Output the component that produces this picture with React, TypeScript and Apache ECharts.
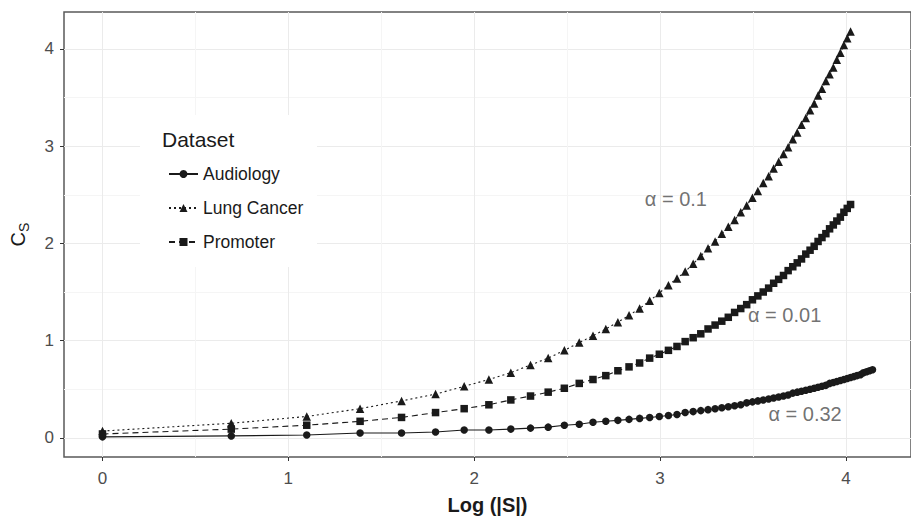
import React, { useEffect, useRef } from "react";
import * as echarts from "echarts";

// Log(|S|) for |S| = 1..63
const logSize = [
  0, 0.693, 1.099, 1.386, 1.609, 1.792, 1.946, 2.079, 2.197, 2.303,
  2.398, 2.485, 2.565, 2.639, 2.708, 2.773, 2.833, 2.89, 2.944, 2.996,
  3.045, 3.091, 3.135, 3.178, 3.219, 3.258, 3.296, 3.332, 3.367, 3.401,
  3.434, 3.466, 3.497, 3.526, 3.555, 3.584, 3.611, 3.638, 3.664, 3.689,
  3.714, 3.738, 3.761, 3.784, 3.807, 3.829, 3.85, 3.871, 3.892, 3.912,
  3.932, 3.951, 3.97, 3.989, 4.007, 4.025, 4.043, 4.06, 4.078, 4.094,
  4.111, 4.127, 4.143,
];

const audiology = [
  0.01, 0.02, 0.03, 0.05, 0.05, 0.06, 0.08, 0.08, 0.09, 0.1,
  0.11, 0.13, 0.14, 0.16, 0.17, 0.18, 0.19, 0.2, 0.21, 0.22,
  0.23, 0.24, 0.26, 0.27, 0.28, 0.29, 0.3, 0.31, 0.32, 0.33,
  0.34, 0.36, 0.37, 0.38, 0.39, 0.4, 0.41, 0.42, 0.43, 0.44,
  0.46, 0.47, 0.48, 0.49, 0.5, 0.51, 0.52, 0.53, 0.54, 0.56,
  0.57, 0.58, 0.59, 0.6, 0.61, 0.62, 0.63, 0.64, 0.65, 0.67,
  0.68, 0.69, 0.7,
];

const lungCancer = [
  0.07, 0.15, 0.22, 0.3, 0.38, 0.45, 0.53, 0.6, 0.67, 0.75,
  0.82, 0.9, 0.98, 1.05, 1.12, 1.19, 1.26, 1.33, 1.41, 1.49,
  1.57, 1.64, 1.71, 1.79, 1.87, 1.95, 2.02, 2.1, 2.17, 2.24,
  2.32, 2.39, 2.47, 2.54, 2.62, 2.69, 2.77, 2.84, 2.92, 2.99,
  3.07, 3.14, 3.22, 3.29, 3.37, 3.44, 3.52, 3.59, 3.67, 3.74,
  3.81, 3.89, 3.96, 4.04, 4.11, 4.18,
];

const promoter = [
  0.04, 0.09, 0.13, 0.17, 0.21, 0.26, 0.3, 0.34, 0.39, 0.43,
  0.47, 0.51, 0.56, 0.6, 0.64, 0.69, 0.73, 0.77, 0.82, 0.86,
  0.9, 0.94, 0.99, 1.03, 1.07, 1.12, 1.16, 1.2, 1.24, 1.29,
  1.33, 1.37, 1.42, 1.46, 1.5, 1.54, 1.59, 1.63, 1.67, 1.72,
  1.76, 1.8, 1.84, 1.89, 1.93, 1.97, 2.02, 2.06, 2.1, 2.15,
  2.19, 2.23, 2.27, 2.32, 2.36, 2.4,
];

const seriesNames = ["Audiology", "Lung Cancer", "Promoter"];
const xTicks = [0, 1, 2, 3, 4];
const yTicks = [0, 1, 2, 3, 4];
const annotText = ["α = 0.1", "α = 0.01", "α = 0.32"];
const annotX = [3.085, 3.67, 3.78];
const annotY = [2.46, 1.26, 0.25];

export default function App() {
  const ref = useRef<HTMLDivElement>(null);

  useEffect(() => {
    if (!ref.current) return;
    const chart = echarts.init(ref.current, null, { renderer: "svg" });
    const ink = "#1a1a1a";
    const font = "'Liberation Sans', Arial, Helvetica, sans-serif";
    const pts = (ys: number[]) => ys.map((y, i) => [logSize[i], y]);

    const lineSeries = (name: string, ys: number[], symbol: string, dash: any, size: number) => ({
      name,
      type: "line",
      data: pts(ys),
      symbol,
      symbolSize: size,
      showSymbol: true,
      lineStyle: { color: ink, width: 1.1, type: dash },
      itemStyle: { color: ink },
      z: 3,
    });

    chart.setOption({
      animation: false,
      textStyle: { fontFamily: font },
      grid: {
        left: 63,
        top: 12,
        width: 851,
        height: 449,
        show: true,
        borderColor: "#5a5a5a",
        borderWidth: 1.5,
        backgroundColor: "#ffffff",
      },
      xAxis: {
        type: "value",
        min: -0.207,
        max: 4.35,
        minInterval: 1,
        maxInterval: 1,
        name: "Log (|S|)",
        nameLocation: "middle",
        nameGap: 38,
        nameTextStyle: { fontSize: 20, fontWeight: "bold", color: ink, fontFamily: font },
        axisLine: { show: false, onZero: false },
        axisTick: { show: true, length: 4, customValues: xTicks, lineStyle: { color: "#333", width: 1 } },
        axisLabel: {
          customValues: xTicks,
          margin: 13,
          fontSize: 17,
          color: "#4d4d4d",
          fontFamily: font,
        },
        splitLine: { show: true, lineStyle: { color: "#ebebeb", width: 1 } },
        minorTick: { show: false, splitNumber: 2 },
        minorSplitLine: { show: true, lineStyle: { color: "#f5f5f5", width: 1 } },
      },
      yAxis: {
        type: "value",
        min: -0.197,
        max: 4.38,
        minInterval: 1,
        maxInterval: 1,
        name: "{c|C}{s|S}",
        nameLocation: "middle",
        nameRotate: 90,
        nameGap: 36,
        nameTextStyle: {
          color: ink,
          fontFamily: font,
          rich: {
            c: { fontSize: 20, color: ink, fontFamily: font, lineHeight: 26, verticalAlign: "bottom" },
            s: { fontSize: 14, color: ink, fontFamily: font, lineHeight: 26, verticalAlign: "bottom", padding: [0, 0, -3, 0] },
          },
        },
        axisLine: { show: false, onZero: false },
        axisTick: { show: true, length: 4, customValues: yTicks, lineStyle: { color: "#333", width: 1 } },
        axisLabel: {
          customValues: yTicks,
          margin: 10,
          fontSize: 17,
          color: "#4d4d4d",
          fontFamily: font,
        },
        splitLine: { show: true, lineStyle: { color: "#ebebeb", width: 1 } },
        minorTick: { show: false, splitNumber: 2 },
        minorSplitLine: { show: true, lineStyle: { color: "#f5f5f5", width: 1 } },
      },
      legend: {
        data: seriesNames,
        orient: "vertical",
        left: 163,
        top: 160,
        itemWidth: 29,
        itemHeight: 10,
        itemGap: 16,
        textStyle: { fontSize: 17.5, color: ink, fontFamily: font },
        z: 6,
      },
      graphic: [
        {
          type: "rect",
          shape: { x: 140, y: 115, width: 177, height: 152 },
          style: { fill: "#ffffff" },
          z: 1,
          silent: true,
        },
        {
          type: "text",
          x: 162,
          y: 129,
          style: { text: "Dataset", fontSize: 21, fill: ink, fontFamily: font },
          z: 6,
        },
      ],
      series: [
        lineSeries(seriesNames[0], audiology, "circle", "solid", 7.5),
        lineSeries(seriesNames[1], lungCancer, "triangle", [2, 3], 8.5),
        lineSeries(seriesNames[2], promoter, "rect", [6, 4], 7.5),
        {
          name: "annotations",
          type: "scatter",
          symbolSize: 0,
          data: annotText.map((t, i) => [annotX[i], annotY[i], t]),
          label: {
            show: true,
            position: "inside",
            formatter: (p: any) => p.data[2],
            fontSize: 20,
            color: "#4d4d4d",
            fontFamily: font,
          },
          z: 4,
          silent: true,
        },
      ],
    });

    return () => chart.dispose();
  }, []);

  return (
    <div
      ref={ref}
      style={{ position: "absolute", left: 0, top: 0, width: 911, height: 520 }}
    />
  );
}
